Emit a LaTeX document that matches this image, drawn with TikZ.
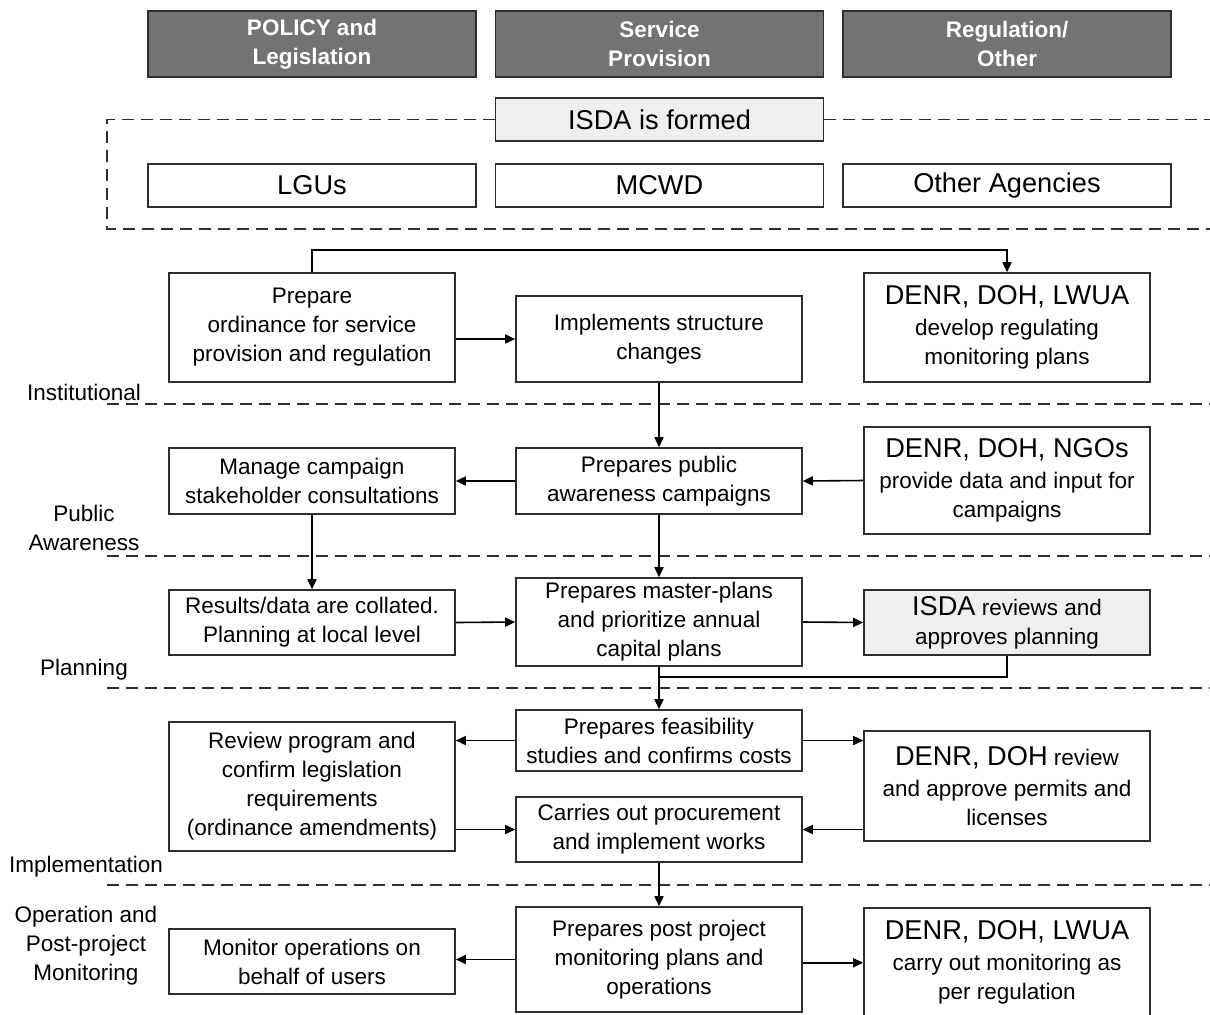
\documentclass[tikz,border=0pt]{standalone}
\usepackage{fontspec}
\setmainfont{Liberation Sans}
\usetikzlibrary{arrows.meta}
\usetikzlibrary{calc}
\usetikzlibrary{positioning}
\usepackage{xcolor}

\definecolor{hdrgray}{HTML}{737373}
\definecolor{isdagray}{HTML}{EFEFEF}
\definecolor{linegray}{HTML}{2E2E2E}

\newcommand{\agency}[1]{{\fontsize{13.6}{16}\selectfont #1}}

\begin{document}
\begin{tikzpicture}[x=0.5pt,y=-0.5pt,
    box/.style={draw=linegray, line width=0.8pt, align=center, minimum width=143pt, inner sep=0pt, font=\fontsize{11.25}{14.5}\selectfont},
    header/.style={box, fill=hdrgray, text=white, minimum width=164pt, minimum height=33pt, font=\bfseries\fontsize{11.25}{14.5}\selectfont},
    party/.style={box, minimum width=164pt, minimum height=21.5pt, font=\fontsize{13.6}{16}\selectfont},
    flow/.style={draw=black, line width=0.8pt, -{Triangle[length=5pt,width=4.5pt]}},
    link/.style={draw=black, line width=0.8pt},
    sepline/.style={draw=linegray, line width=0.8pt, dash pattern=on 6pt off 3.5pt},
    phase/.style={align=center, inner sep=0pt, font=\fontsize{11.25}{14.5}\selectfont}]
      \clip (0,0) rectangle (1210,1014);

      % Headers
      \node[header] (policy) at (312,44) {POLICY and\\Legislation};
      \node[header] (service) at (659.5,44) {Service\\Provision};
      \node[header] (regul) at (1007,44) {Regulation/\\Other};

      % ISDA and its members
      \node[party, fill=isdagray] (isda) at (659.5,119.5) {ISDA is formed};
      \node[party] (lgus) at (312,185.5) {LGUs};
      \node[party] (mcwd) at (659.5,185.5) {MCWD};
      \node[party] (others) at (1007,185.5) {Other Agencies};
      \draw[sepline] (isda.west) -| (107,229) -- (1210,229);
      \draw[sepline] (isda.east) -- (1210,119.5);

      % Phase separators
      \foreach \y in {404,556,688,885}
      {
        \draw[sepline] (107,\y) -- (1210,\y);
      }

      % Phase labels
      \node[phase] (instit) at (84,392) {Institutional};
      \node[phase] (aware) at (84,528) {Public\\Awareness};
      \node[phase] (plan) at (84,670) {Planning};
      \node[phase] (implem) at (86,867) {Implementation};
      \node[phase] (operat) at (86,946) {Operation and\\Post-project\\Monitoring};

      % Institutional
      \node[box, minimum height=54.5pt] (ordinance) at (312,327.5) {Prepare\\ordinance for service\\provision and regulation};
      \node[box, minimum height=43pt] (structure) at (659,339) {Implements structure\\changes};
      \node[box, minimum height=54.5pt] (regplans) at (1007,327.5) {\agency{DENR, DOH, LWUA}\\[1pt]develop regulating\\monitoring plans};
      \draw[flow] (ordinance.north) -- ++(0,-22) -| (regplans.north);
      \draw[flow] (ordinance.east |- structure.west) -- (structure.west);

      % Public awareness
      \node[box, minimum height=33pt] (consult) at (312,481) {Manage campaign\\stakeholder consultations};
      \node[box, minimum height=33pt] (campaign) at (659,481) {Prepares public\\awareness campaigns};
      \node[box, minimum height=53.5pt] (ngos) at (1007,480.5) {\agency{DENR, DOH, NGOs}\\[1pt]provide data and input for\\campaigns};
      \draw[flow] (structure.south) -- (campaign.north);
      \draw[flow] (ngos.west) -- (campaign.east);
      \draw[flow] (campaign.west) -- (consult.east);

      % Planning
      \node[box, minimum height=32.5pt] (collate) at (312,622.5) {Results/data are collated.\\Planning at local level};
      \node[box, minimum height=44pt] (master) at (659,622) {Prepares master-plans\\and prioritize annual\\capital plans};
      \node[box, minimum height=32.5pt, fill=isdagray] (approve) at (1007,622.5) {\agency{ISDA} reviews and\\approves planning};
      \draw[flow] (consult.south) -- (collate.north);
      \draw[flow] (campaign.south) -- (master.north);
      \draw[flow] (collate.east) -- (master.west);
      \draw[flow] (master.east) -- (approve.west);

      % Implementation
      \node[box, minimum height=30.5pt] (feas) at (659,740.5) {Prepares feasibility\\studies and confirms costs};
      \node[box, minimum height=64.5pt] (legis) at (312,786.5) {Review program and\\confirm legislation\\requirements\\(ordinance amendments)};
      \node[box, minimum height=55pt] (permits) at (1007,786) {\agency{DENR, DOH} review\\[1pt]and approve permits and\\licenses};
      \node[box, minimum height=32.5pt] (works) at (659,829.5) {Carries out procurement\\and implement works};
      \coordinate (merge) at (659,677);
      \draw[flow] (master.south) -- (feas.north);
      \draw[link] (approve.south) |- (merge);
      \draw[flow] (feas.west) -- (feas.west -| legis.east);
      \draw[flow] (feas.east) -- (feas.east -| permits.west);
      \draw[flow] (legis.east |- works.west) -- (works.west);
      \draw[flow] (permits.west |- works.east) -- (works.east);

      % Operation and monitoring
      \node[box, minimum height=52.5pt] (post) at (659,959.5) {Prepares post project\\monitoring plans and\\operations};
      \node[box, minimum height=32.5pt] (monitor) at (312,961.5) {Monitor operations on\\behalf of users};
      \node[box, minimum height=55pt, anchor=north] (carryout) at (1007,907) {\agency{DENR, DOH, LWUA}\\[1pt]carry out monitoring as\\per regulation};
      \draw[flow] (works.south) -- (post.north);
      \draw[flow] (post.west) -- (post.west -| monitor.east);
      \draw[flow] (post.east |- carryout.west) -- (carryout.west);
  \end{tikzpicture}
\end{document}
